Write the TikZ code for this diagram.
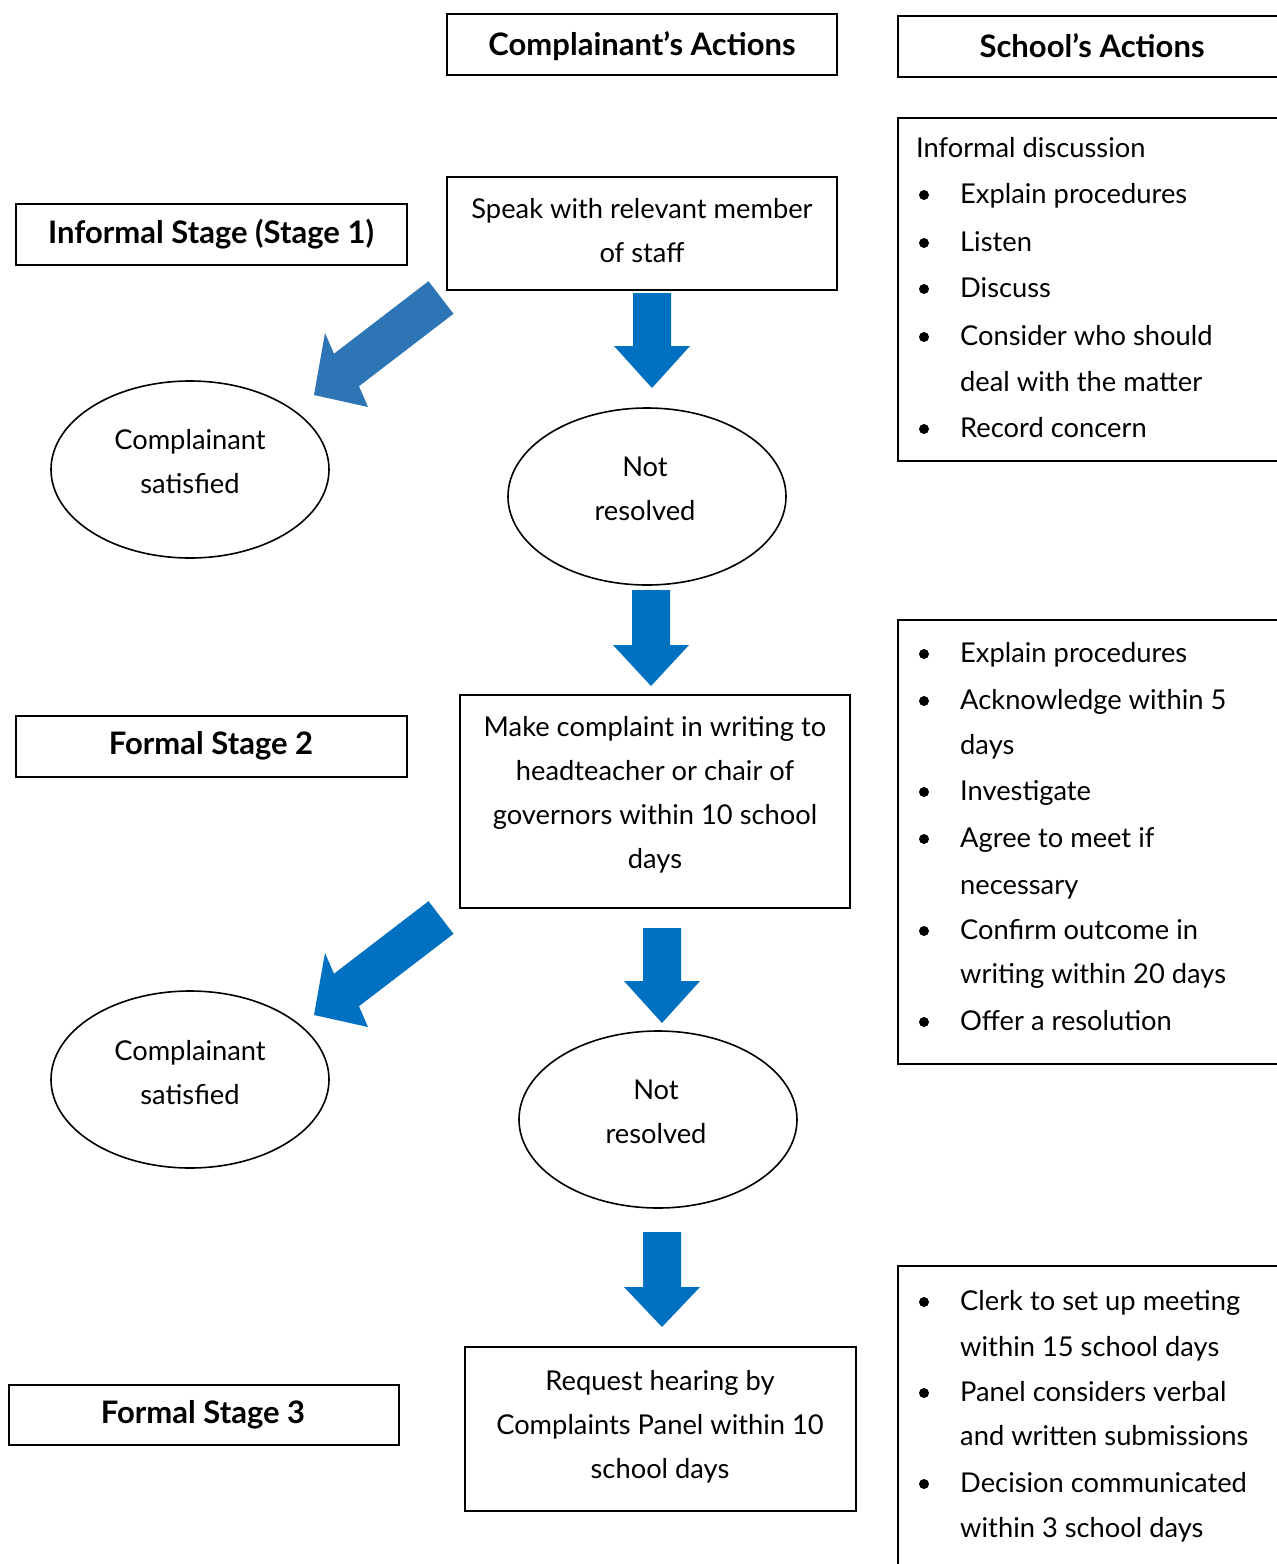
\documentclass[tikz,border=0pt]{standalone}
\usepackage{fontspec}
\setmainfont{Lato}
\usetikzlibrary{shapes.geometric}
\definecolor{arrA}{HTML}{2E75B6}
\definecolor{arrB}{HTML}{0070C0}
\begin{document}
\begin{tikzpicture}[x=1pt,y=-1pt,
  box/.style={draw, line width=1.6pt, rectangle, inner sep=0pt},
  oval/.style={draw, line width=1.6pt, ellipse, inner sep=0pt, minimum width=278pt, minimum height=177pt},
  hdr/.style={font=\bfseries\fontsize{31}{36}\selectfont, inner sep=0pt},
  body/.style={font=\fontsize{27.3}{44}\selectfont, align=center, inner sep=0pt},
  li/.style={anchor=base west, font=\fontsize{27.3}{32}\selectfont, inner sep=0pt},
  bul/.style={fill=black}
]
\useasboundingbox (0,0) rectangle (1277,1564);
\clip (0,0) rectangle (1277,1564);

% header boxes
\node[box, minimum width=390pt, minimum height=61pt] (comp) at (642,44.5) {};
\node[hdr] (compT) at (642,46) {Complainant’s Actions};
\node[box, minimum width=390pt, minimum height=61pt] (school) at (1093,46.5) {};
\node[hdr] (schoolT) at (1092,46) {School’s Actions};

% stage boxes
\node[box, minimum width=391pt, minimum height=61pt] (stg1) at (211.5,234.5) {};
\node[hdr] (stg1T) at (211,234) {Informal Stage (Stage 1)};
\node[box, minimum width=391pt, minimum height=61pt] (stg2) at (211.5,746.5) {};
\node[hdr] (stg2T) at (211,746) {Formal Stage 2};
\node[box, minimum width=390pt, minimum height=60pt] (stg3) at (204,1415) {};
\node[hdr] (stg3T) at (203,1415) {Formal Stage 3};

% centre boxes
\node[box, minimum width=390pt, minimum height=113pt] (speak) at (642,233.5) {};
\node[body] (speakT) at (642,230.5) {Speak with relevant member\\of staff};
\node[box, minimum width=390pt, minimum height=213pt] (make) at (655,801.5) {};
\node[body] (makeT) at (655,795) {Make complaint in writing to\\headteacher or chair of\\governors within 10 school\\days};
\node[box, minimum width=391pt, minimum height=164pt] (req) at (660.5,1429) {};
\node[body] (reqT) at (660,1427) {Request hearing by\\Complaints Panel within 10\\school days};

% ellipses
\node[oval] (sat1) at (190,469.5) {};
\node[body] (sat1T) at (190,462) {Complainant\\satisfied};
\node[oval] (nr1) at (647,496.5) {};
\node[body] (nr1T) at (645,489) {Not\\resolved};
\node[oval] (sat2) at (190,1079.5) {};
\node[body] (sat2T) at (190,1072.5) {Complainant\\satisfied};
\node[oval] (nr2) at (658,1119.5) {};
\node[body] (nr2T) at (656,1112) {Not\\resolved};

% school action boxes
\node[box, minimum width=390pt, minimum height=343pt] (sch1) at (1093,289.5) {};
\node[box, minimum width=390pt, minimum height=444pt] (sch2) at (1093,842) {};
\node[box, minimum width=390pt, minimum height=400pt] (sch3) at (1093,1466) {};

% list 1
\node[li] (l1a) at (916,157) {Informal discussion};
\node[li] (l1b) at (960,203) {Explain procedures};
\node[li] (l1c) at (960,251) {Listen};
\node[li] (l1d) at (960,297) {Discuss};
\node[li] (l1e) at (960,345) {Consider who should};
\node[li] (l1f) at (960,391) {deal with the matter};
\node[li] (l1g) at (960,437) {Record concern};
\foreach \y in {195,243,289,337,429} \fill[bul] (924,\y) circle (5pt);

% list 2
\node[li] (l2a) at (960,662) {Explain procedures};
\node[li] (l2b) at (960,709) {Acknowledge within 5};
\node[li] (l2c) at (960,754) {days};
\node[li] (l2d) at (960,800) {Investigate};
\node[li] (l2e) at (960,847) {Agree to meet if};
\node[li] (l2f) at (960,894) {necessary};
\node[li] (l2g) at (960,939) {Confirm outcome in};
\node[li] (l2h) at (960,983) {writing within 20 days};
\node[li] (l2i) at (960,1030) {Offer a resolution};
\foreach \y in {654,701,792,839,931,1022} \fill[bul] (924,\y) circle (5pt);

% list 3
\node[li] (l3a) at (960,1310) {Clerk to set up meeting};
\node[li] (l3b) at (960,1356) {within 15 school days};
\node[li] (l3c) at (960,1401) {Panel considers verbal};
\node[li] (l3d) at (960,1445) {and written submissions};
\node[li] (l3e) at (960,1492) {Decision communicated};
\node[li] (l3f) at (960,1537) {within 3 school days};
\foreach \y in {1302,1393,1484} \fill[bul] (924,\y) circle (5pt);

% block arrows
\fill[arrA] (428.5,281.2) -- (453.5,313.8) -- (359,386.2) -- (368,407) -- (314,395) -- (325,333) -- (334,353.7) -- cycle;
\fill[arrB, yshift=-620pt] (428.5,281.2) -- (453.5,313.8) -- (359,386.2) -- (368,407) -- (314,395) -- (325,333) -- (334,353.7) -- cycle;

\fill[arrB] (633,293) -- (671,293) -- (671,346) -- (690,346) -- (652,388) -- (614,346) -- (633,346) -- cycle;
\fill[arrB] (632,590) -- (670,590) -- (670,645) -- (689,645) -- (651,686) -- (613,645) -- (632,645) -- cycle;
\fill[arrB] (643,928) -- (681,928) -- (681,981) -- (700,981) -- (662,1023) -- (624,981) -- (643,981) -- cycle;
\fill[arrB] (643,1232) -- (681,1232) -- (681,1287) -- (700,1287) -- (662,1327) -- (624,1287) -- (643,1287) -- cycle;
\end{tikzpicture}
\end{document}
